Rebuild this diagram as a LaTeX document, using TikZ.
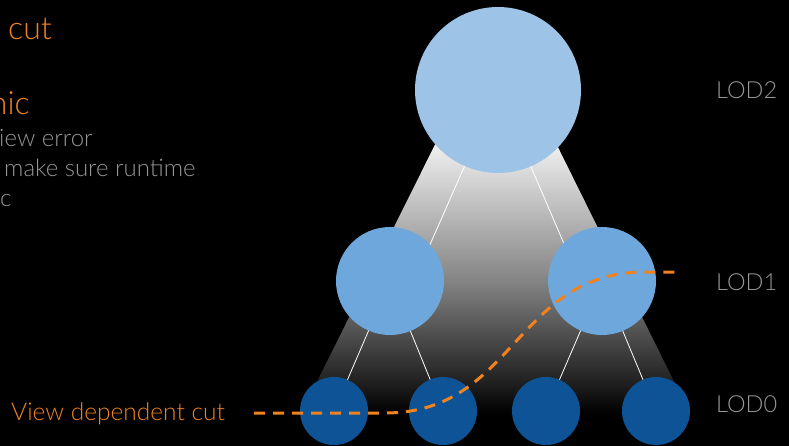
\documentclass[tikz,border=0pt]{standalone}
\usepackage{fontspec}
\setmainfont{Lato Light}
\usepackage{tikz}

\definecolor{cutorange}{RGB}{240,131,32}
\definecolor{labelgray}{RGB}{150,150,150}
\definecolor{rootblue}{RGB}{157,195,230}
\definecolor{midblue}{RGB}{110,167,220}
\definecolor{leafblue}{RGB}{14,83,150}
\pgfdeclareverticalshading{lodfade}{100bp}{color(0bp)=(black); color(27bp)=(black); color(43bp)=(white!51!black); color(60bp)=(white!94!black); color(100bp)=(white!94!black)}

\begin{document}
\begin{tikzpicture}[x=1pt,y=-1pt,
  lod/.style={circle,inner sep=0pt},
  edge/.style={white,line width=0.8pt},
  lodlabel/.style={text=labelgray,inner sep=0pt,anchor=base west,font=\fontsize{23.5}{28}\selectfont},
  body/.style={text=labelgray,inner sep=0pt,font=\fontsize{24}{28}\selectfont},
  heading/.style={text=cutorange,inner sep=0pt,font=\fontsize{32}{36}\selectfont}]
\useasboundingbox (0,0) rectangle (789,446);
\clip (0,0) rectangle (789,446);
\fill[black] (0,0) rectangle (789,446);

% Fading wedge behind the tree
\shade[shading=lodfade] (496,22) -- (698,430) -- (293,430) -- cycle;

% Node positions first, edges go underneath
\coordinate (root) at (498,90);
\coordinate (l1a) at (390,281);
\coordinate (l1b) at (602,281);
\coordinate (l0a) at (334,411);
\coordinate (l0b) at (443,411);
\coordinate (l0c) at (546,411);
\coordinate (l0d) at (656,411);

\draw[edge] (root) -- ([xshift=24pt]l1a);
\draw[edge] (root) -- ([xshift=-22pt]l1b);
\draw[edge] (l1a) -- (l0a);
\draw[edge] (l1a) -- (l0b);
\draw[edge] (l1b) -- (l0c);
\draw[edge] (l1b) -- (l0d);

% Hierarchy
\node[lod,fill=rootblue,minimum size=166pt] (n2) at (root) {};
\node[lod,fill=midblue,minimum size=108pt] (n1a) at (l1a) {};
\node[lod,fill=midblue,minimum size=108pt] (n1b) at (l1b) {};
\node[lod,fill=leafblue,minimum size=68pt] (n0a) at (l0a) {};
\node[lod,fill=leafblue,minimum size=68pt] (n0b) at (l0b) {};
\node[lod,fill=leafblue,minimum size=68pt] (n0c) at (l0c) {};
\node[lod,fill=leafblue,minimum size=68pt] (n0d) at (l0d) {};

% Cut line
\coordinate (cutstart) at (254,413);
\coordinate (cutend) at (679,272);
\draw[cutorange,line width=3pt,dash pattern=on 11pt off 8pt]
  (cutstart) -- (385,413) .. controls (515,413) and (515,272) .. (645,272) -- (cutend);

% Labels
\node[lodlabel] (lod2) at (716,99) {LOD2};
\node[lodlabel] (lod1) at (716,290) {LOD1};
\node[lodlabel] (lod0) at (716,412) {LOD0};
\node[text=cutorange,inner sep=0pt,anchor=base west,font=\fontsize{24.5}{28}\selectfont] (cutlabel) at (11,420) {View dependent cut};

% Text running in from the left
\node[heading,anchor=base west] (cuthead) at (8,40) {cut};
\node[heading,anchor=base east] (dynhead) at (30,115) {nic};
\node[body,anchor=base west] (line1) at (-1,147) {iew error};
\node[body,anchor=base west] (line2) at (4,177) {make sure runtime};
\node[body,anchor=base west] (line3) at (0,207) {c};
\end{tikzpicture}
\end{document}
